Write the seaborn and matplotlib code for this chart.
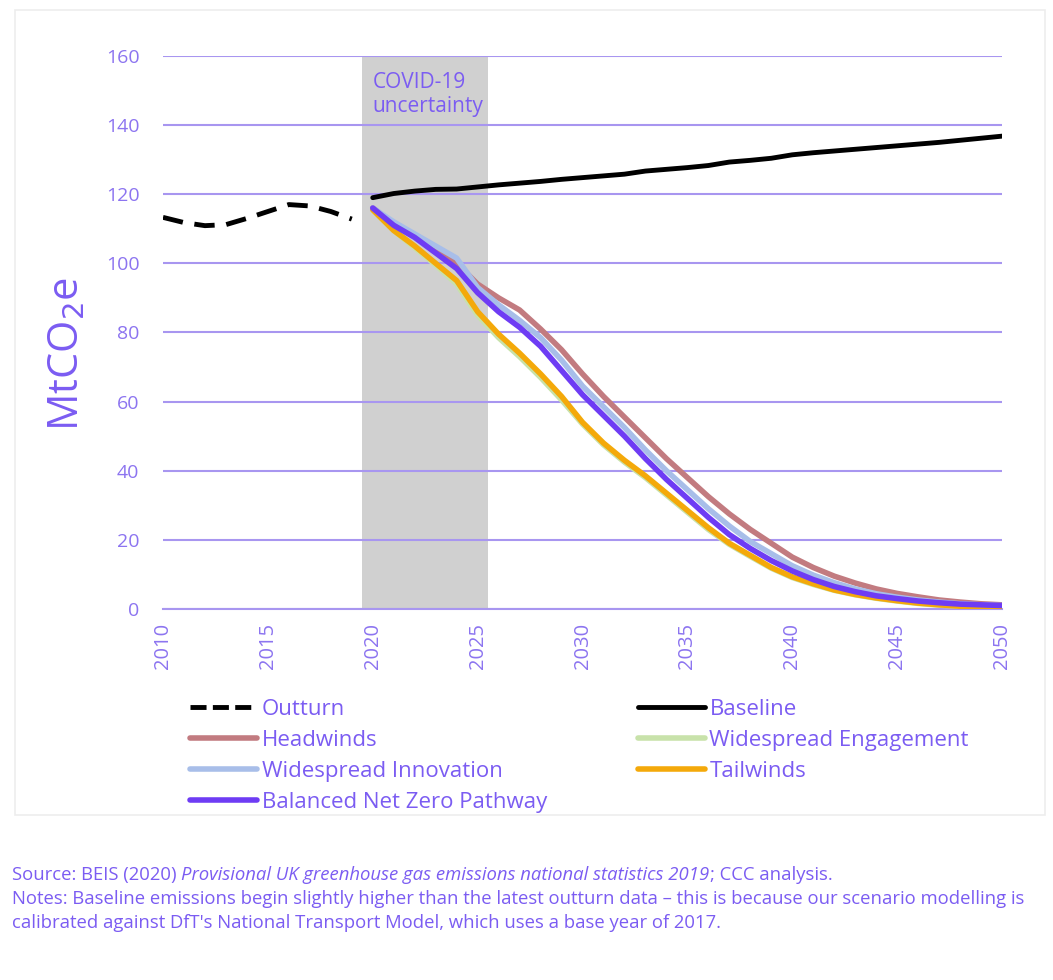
import numpy as np
import pandas as pd
import matplotlib
matplotlib.use("Agg")
import matplotlib.pyplot as plt
import seaborn as sns
from matplotlib.lines import Line2D
from matplotlib.patches import Rectangle

# Datos
outturn_years = list(range(2010, 2020))
outturn = [113.3, 111.8, 110.9, 111.2, 113.0, 115.0, 117.0, 116.6, 115.0, 112.8]

years = list(range(2020, 2051))
baseline = [119.0, 120.2, 120.9, 121.4, 121.5, 122.1, 122.7, 123.2, 123.7, 124.3,
            124.8, 125.3, 125.8, 126.7, 127.2, 127.7, 128.3, 129.3, 129.8, 130.4,
            131.4, 132.0, 132.5, 133.0, 133.5, 134.0, 134.5, 135.0, 135.6, 136.2, 136.8]
headwinds = [116.0, 111.5, 108.0, 104.0, 100.0, 94.0, 90.0, 86.5, 81.0, 75.0,
             68.0, 61.5, 55.5, 49.5, 43.5, 38.0, 32.5, 27.5, 23.0, 19.0,
             15.0, 12.0, 9.5, 7.5, 5.8, 4.5, 3.5, 2.6, 2.0, 1.5, 1.2]
engagement = [115.5, 109.5, 104.5, 99.5, 94.0, 85.0, 78.5, 73.0, 67.0, 60.5,
              53.5, 47.5, 42.5, 38.0, 33.0, 28.0, 23.0, 18.7, 15.2, 11.8,
              9.1, 7.1, 5.4, 4.1, 3.1, 2.3, 1.6, 1.1, 0.8, 0.5, 0.3]
innovation = [116.0, 112.0, 108.5, 105.0, 101.5, 93.0, 88.0, 83.5, 78.5, 72.0,
              64.5, 58.5, 52.5, 46.0, 40.0, 34.5, 29.0, 24.0, 19.5, 16.0,
              12.5, 9.8, 7.6, 5.8, 4.4, 3.4, 2.6, 2.0, 1.5, 1.2, 1.0]
tailwinds = [115.5, 109.5, 105.0, 100.0, 95.0, 86.0, 79.5, 74.0, 68.0, 61.5,
             54.0, 48.0, 43.0, 38.5, 33.5, 28.5, 23.5, 19.0, 15.5, 12.0,
             9.3, 7.3, 5.5, 4.2, 3.2, 2.4, 1.7, 1.2, 0.8, 0.5, 0.3]
balanced = [116.0, 111.0, 107.5, 103.0, 98.5, 91.5, 86.0, 81.5, 76.0, 69.0,
            62.0, 56.0, 50.0, 43.5, 37.5, 32.0, 26.5, 21.5, 17.5, 14.0,
            11.0, 8.5, 6.5, 5.0, 3.8, 3.0, 2.3, 1.8, 1.4, 1.2, 1.0]

covid_span = (2019.5, 2025.5)

txt = "#7B5CF2"
tick_txt = "#8C74F0"
grid_c = "#A896F0"

sns.set_style("white")
plt.rcParams['font.family'] = ['Open Sans', 'DejaVu Sans']

fig = plt.figure(figsize=(10.53, 9.8), dpi=100)
ax = fig.add_axes([0.1548, 0.3786, 0.7968, 0.5643])

# borde gris claro del area del grafico
fig.patches.append(Rectangle((15 / 1053, 1 - 815 / 980), 1030 / 1053, 805 / 980,
                             transform=fig.transFigure, fill=False,
                             edgecolor="#EDEDED", lw=1.2))

ax.axvspan(*covid_span, color="#D0D0D0", zorder=0.2, lw=0)
ax.text(2020.0, 155.5, "COVID-19\nuncertainty", color=txt, fontsize=15,
        va="top", ha="left", linespacing=1.2)

scen = [
    ("Headwinds", headwinds, "#C27B80"),
    ("Widespread Engagement", engagement, "#C8E2AA"),
    ("Widespread Innovation", innovation, "#A8BEE9"),
    ("Tailwinds", tailwinds, "#F4A90A"),
    ("Balanced Net Zero Pathway", balanced, "#6E3CF4"),
]

dash = (0, (4.2, 2.4))
sns.lineplot(x=outturn_years, y=outturn, ax=ax, color="black", lw=3.5,
             linestyle=dash, zorder=3)
sns.lineplot(x=years, y=baseline, ax=ax, color="black", lw=3.5, zorder=3)
for name, vals, col in scen:
    sns.lineplot(x=years, y=vals, ax=ax, color=col, lw=4, zorder=3)

ax.set_xlim(2010, 2050)
ax.set_ylim(0, 160)
ax.set_yticks(range(0, 161, 20))
ax.set_xticks(range(2010, 2051, 5))
ax.set_xticks(range(2010, 2051), minor=True)
ax.grid(axis="y", color=grid_c, lw=1.5)
ax.set_axisbelow(True)
for s in ["top", "right", "left"]:
    ax.spines[s].set_visible(False)
ax.spines["bottom"].set_color(grid_c)
ax.spines["bottom"].set_linewidth(1.5)
ax.tick_params(axis="x", which="both", direction="out", length=6, width=1.3,
               color=grid_c, labelcolor=tick_txt, labelsize=14.5, labelrotation=90, pad=4)
ax.tick_params(axis="y", length=0, labelcolor=tick_txt, labelsize=14, pad=17)
ax.set_ylabel("MtCO$_2$e", color=txt, fontsize=30)
ax.yaxis.set_label_coords(-0.089, 0.462)
ax.set_xlabel("")

# leyenda en dos columnas
h = {
    "Outturn": Line2D([], [], color="black", lw=3.5, linestyle=(0, (3.3, 1.3))),
    "Baseline": Line2D([], [], color="black", lw=3.5),
}
for name, vals, col in scen:
    h[name] = Line2D([], [], color=col, lw=4)
order = ["Outturn", "Headwinds", "Widespread Innovation", "Balanced Net Zero Pathway",
         "Baseline", "Widespread Engagement", "Tailwinds"]
leg = fig.legend([h[k] for k in order], order, loc="upper left",
                 bbox_to_anchor=(190 / 1053, 1 - 698.5 / 980), ncol=2, frameon=False,
                 fontsize=16, handlelength=3.0, handletextpad=0.22,
                 labelspacing=0.45, columnspacing=4.1, borderpad=0, borderaxespad=0)
for t in leg.get_texts():
    t.set_color(txt)

# notas al pie
renderer = fig.canvas.get_renderer()
fs = 13.3
t1 = fig.text(12 / 1053, 1 - 880 / 980, "Source: BEIS (2020) ", color=txt, fontsize=fs)
bb = t1.get_window_extent(renderer)
t2 = fig.text(bb.x1 / 1053, 1 - 880 / 980,
              "Provisional UK greenhouse gas emissions national statistics 2019",
              color=txt, fontsize=fs, style="italic")
bb2 = t2.get_window_extent(renderer)
fig.text(bb2.x1 / 1053, 1 - 880 / 980, "; CCC analysis.", color=txt, fontsize=fs)
fig.text(12 / 1053, 1 - 904 / 980,
         "Notes: Baseline emissions begin slightly higher than the latest outturn data \u2013 "
         "this is because our scenario modelling is",
         color=txt, fontsize=fs)
fig.text(12 / 1053, 1 - 928 / 980,
         "calibrated against DfT's National Transport Model, which uses a base year of 2017.",
         color=txt, fontsize=fs)

fig.savefig("out.png", dpi=100)
